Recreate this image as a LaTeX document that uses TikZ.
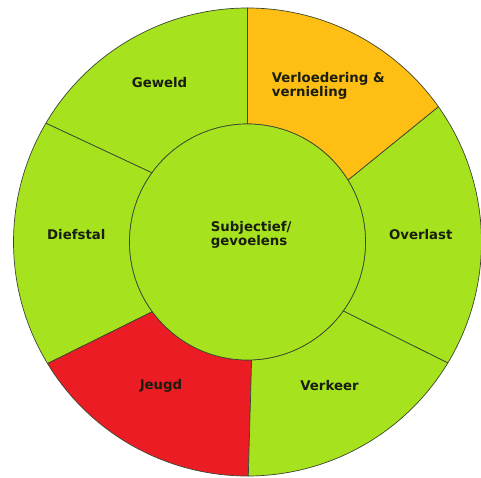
\documentclass[tikz,border=0pt]{standalone}
\usepackage{fontspec}
\setmainfont{DejaVu Sans}
\definecolor{lime}{RGB}{166,227,30}
\definecolor{amber}{RGB}{255,190,20}
\definecolor{crimson}{RGB}{236,28,36}
\definecolor{ink}{RGB}{25,30,15}
\definecolor{edge}{RGB}{60,70,50}
\begin{document}
\begin{tikzpicture}[x=1pt,y=1pt,
  seg/.style={draw=edge,line width=0.7pt,line join=round},
  lbl/.style={font=\fontsize{13.3}{14.5}\selectfont\bfseries,text=ink,inner sep=0pt}]
\useasboundingbox (0,0) rectangle (481,477);
\fill[white] (0,0) rectangle (481,477);
\coordinate (C) at (247.5,235);
\def\Ro{234}
\def\Ri{118}
% segments: outer start, outer end, inner end, inner start
\foreach \ao/\bo/\bi/\ai/\col in {
  35.3/90/90/31.6/amber,
  90/149.5/144.1/90/lime,
  149.5/211.3/216.2/144.1/lime,
  211.3/270.2/272/216.2/crimson,
  270.2/328.9/324.3/272/lime,
  328.9/395.3/391.6/324.3/lime}{
  \path[seg,fill=\col] ([shift={(C)}]\ao:\Ro) arc[start angle=\ao,end angle=\bo,radius=\Ro]
     -- ([shift={(C)}]\bi:\Ri) arc[start angle=\bi,end angle=\ai,radius=\Ri] -- cycle;
}
\draw[seg,fill=lime] (C) circle[radius=\Ri];
\node[lbl] (geweld) at (159.5,394) {Geweld};
\node[lbl,anchor=west,align=left] (verl) at (271.7,391) {Verloedering \&\\vernieling};
\node[lbl] (dief) at (76.3,242) {Diefstal};
\node[lbl] (over) at (420.8,242) {Overlast};
\node[lbl,anchor=west,align=left] (subj) at (210.7,242) {Subjectief/\\gevoelens};
\node[lbl] (jeugd) at (161,91) {Jeugd};
\node[lbl] (verk) at (329.5,91) {Verkeer};
\end{tikzpicture}
\end{document}
